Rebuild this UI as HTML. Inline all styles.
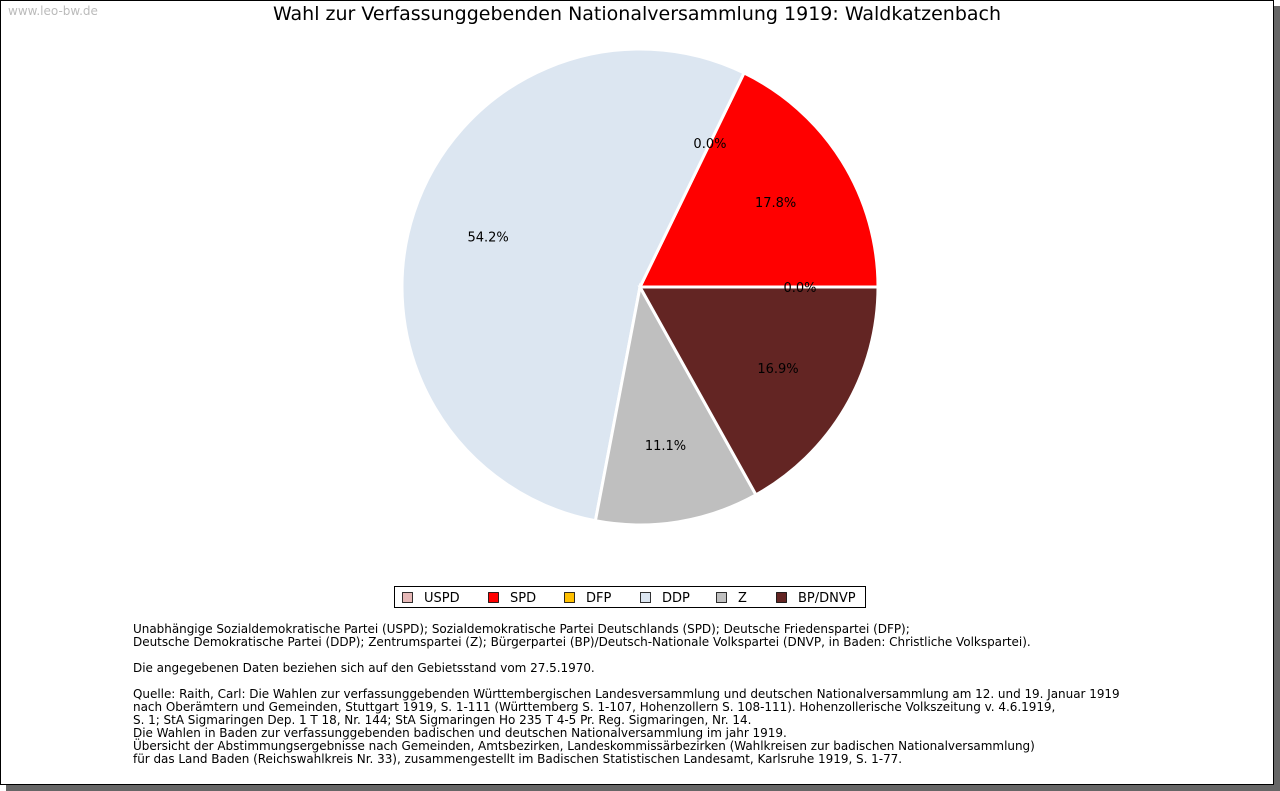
<!DOCTYPE html>
<html><head><meta charset="utf-8"><style>
body{margin:0;width:1280px;height:791px;background:#fff;position:relative;overflow:hidden;font-family:"DejaVu Sans","Liberation Sans",sans-serif}
#frame{position:absolute;left:0;top:0;width:1272px;height:783px;border:1px solid #000;background:#fff;box-shadow:6px 6px 0 #666}
#wm{position:absolute;left:8px;top:4px;font-size:12px;color:#bbb}
#title{position:absolute;left:0;width:1274px;top:3px;text-align:center;font-size:19px}
#notes{position:absolute;left:133px;top:623px;font-size:12px;line-height:13px;white-space:pre;letter-spacing:-0.03px}
</style></head><body>
<div id="frame"></div>
<div id="wm">www.leo-bw.de</div>
<div id="title">Wahl zur Verfassunggebenden Nationalversammlung 1919: Waldkatzenbach</div>
<svg id="pie" width="1280" height="791" style="position:absolute;left:0;top:0"></svg>
<div id="notes">Unabhängige Sozialdemokratische Partei (USPD); Sozialdemokratische Partei Deutschlands (SPD); Deutsche Friedenspartei (DFP);
Deutsche Demokratische Partei (DDP); Zentrumspartei (Z); Bürgerpartei (BP)/Deutsch-Nationale Volkspartei (DNVP, in Baden: Christliche Volkspartei).

Die angegebenen Daten beziehen sich auf den Gebietsstand vom 27.5.1970.

Quelle: Raith, Carl: Die Wahlen zur verfassunggebenden Württembergischen Landesversammlung und deutschen Nationalversammlung am 12. und 19. Januar 1919
nach Oberämtern und Gemeinden, Stuttgart 1919, S. 1-111 (Württemberg S. 1-107, Hohenzollern S. 108-111). Hohenzollerische Volkszeitung v. 4.6.1919,
S. 1; StA Sigmaringen Dep. 1 T 18, Nr. 144; StA Sigmaringen Ho 235 T 4-5 Pr. Reg. Sigmaringen, Nr. 14.
Die Wahlen in Baden zur verfassunggebenden badischen und deutschen Nationalversammlung im jahr 1919.
Übersicht der Abstimmungsergebnisse nach Gemeinden, Amtsbezirken, Landeskommissärbezirken (Wahlkreisen zur badischen Nationalversammlung)
für das Land Baden (Reichswahlkreis Nr. 33), zusammengestellt im Badischen Statistischen Landesamt, Karlsruhe 1919, S. 1-77.</div>
<script>
const parties=["USPD","SPD","DFP","DDP","Z","BP/DNVP"];
const shares=[0.0,17.8,0.0,54.2,11.1,16.9];
const colors=["#e6b8b7","#ff0000","#ffc000","#dce6f1","#bfbfbf","#632523"];
const NS="http://www.w3.org/2000/svg";
const svg=document.getElementById('pie');
const cx=640,cy=287,R=238,RL=160;
const total=shares.reduce((a,b)=>a+b,0);
const pt=(a,r)=>[cx+r*Math.cos(a*Math.PI/180),cy-r*Math.sin(a*Math.PI/180)];
let a0=0;
const labels=[];
shares.forEach((v,i)=>{
  const sweep=v/total*360,a1=a0+sweep;
  if(sweep>0){
    const p0=pt(a0,R),p1=pt(a1,R);
    const path=document.createElementNS(NS,'path');
    path.setAttribute('d',`M${cx},${cy}L${p0[0]},${p0[1]}A${R},${R} 0 ${sweep>180?1:0} 0 ${p1[0]},${p1[1]}Z`);
    path.setAttribute('fill',colors[i]);path.setAttribute('stroke','#fff');path.setAttribute('stroke-width','3');
    
    
    svg.appendChild(path);
  }
  labels.push([pt((a0+a1)/2,RL),v]);
  a0=a1;
});
labels.forEach(([m,v])=>{
  const t=document.createElementNS(NS,'text');
  t.setAttribute('x',m[0]);t.setAttribute('y',m[1]+5);t.setAttribute('text-anchor','middle');
  t.setAttribute('font-size','13');t.textContent=v.toFixed(1)+'%';
  
  
  svg.appendChild(t);
});
const lg=document.createElementNS(NS,'rect');
lg.setAttribute('x',394.5);lg.setAttribute('y',586.5);lg.setAttribute('width',471);lg.setAttribute('height',21);
lg.setAttribute('fill','#fff');lg.setAttribute('stroke','#000');


svg.appendChild(lg);
const lx=[402,488,564,640,716,776];
parties.forEach((p,i)=>{
  const r=document.createElementNS(NS,'rect');
  r.setAttribute('x',lx[i]+0.5);r.setAttribute('y',592.5);r.setAttribute('width',10);r.setAttribute('height',10);
  r.setAttribute('fill',colors[i]);r.setAttribute('stroke','#000');r.setAttribute('stroke-width','0.8');
  
  
  svg.appendChild(r);
  const t=document.createElementNS(NS,'text');
  t.setAttribute('x',lx[i]+22);t.setAttribute('y',602);t.setAttribute('font-size','13');t.textContent=p;
  
  
  svg.appendChild(t);
});
</script>
</body></html>
